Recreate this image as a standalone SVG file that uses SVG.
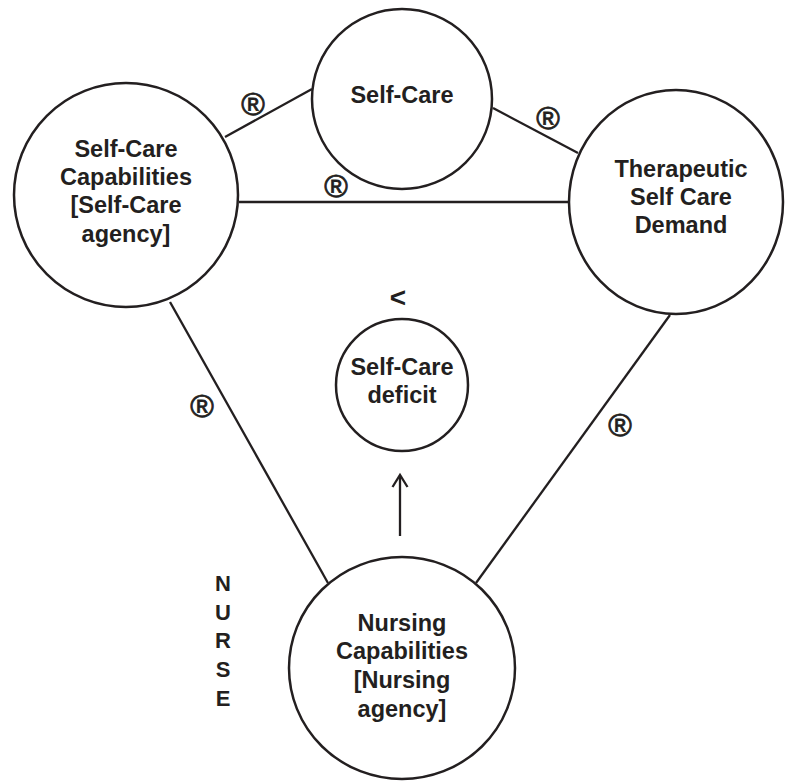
<svg xmlns="http://www.w3.org/2000/svg" width="787" height="781" viewBox="0 0 787 781">
<style>
.node{fill:#fff;stroke:#231f20;stroke-width:2.5}
.conn{stroke:#231f20;stroke-width:2.3;fill:none}
.lbl{font-family:"Liberation Sans",Arial,sans-serif;font-weight:bold;font-size:23.5px;fill:#231f20;text-anchor:middle}
.reg{font-family:"Liberation Sans",Arial,sans-serif;font-size:32px;fill:#231f20;text-anchor:middle;stroke:#231f20;stroke-width:0.8}
</style>
<rect width="787" height="781" fill="#fff"/>
<g id="connectors">
<line class="conn" x1="239" y1="202" x2="568" y2="202"/>
<line class="conn" x1="225" y1="137" x2="312" y2="89"/>
<line class="conn" x1="493" y1="108" x2="578" y2="153"/>
<line class="conn" x1="170" y1="302" x2="328" y2="583"/>
<line class="conn" x1="670" y1="315" x2="476" y2="583"/>
<line class="conn" x1="400" y1="536" x2="400" y2="476"/>
<path class="conn" d="M392.5,487 L400,475 L407.5,487"/>
<text class="reg" x="253" y="115">®</text>
<text class="reg" x="336" y="197">®</text>
<text class="reg" x="548" y="129">®</text>
<text class="reg" x="202" y="417">®</text>
<text class="reg" x="620" y="436">®</text>
</g>
<g id="self-care">
<circle class="node" cx="402" cy="99" r="90"/>
<text class="lbl" x="402" y="103">Self-Care</text>
</g>
<g id="self-care-capabilities">
<circle class="node" cx="126" cy="195" r="112"/>
<text class="lbl" x="126" y="157">Self-Care</text>
<text class="lbl" x="126" y="185">Capabilities</text>
<text class="lbl" x="126" y="213">[Self-Care</text>
<text class="lbl" x="126" y="242">agency]</text>
</g>
<g id="therapeutic-demand">
<ellipse class="node" cx="676" cy="202" rx="107" ry="112"/>
<text class="lbl" x="681" y="177">Therapeutic</text>
<text class="lbl" x="681" y="205">Self Care</text>
<text class="lbl" x="681" y="233">Demand</text>
</g>
<g id="self-care-deficit">
<circle class="node" cx="402" cy="385" r="66"/>
<text class="lbl" x="402" y="375">Self-Care</text>
<text class="lbl" x="402" y="403">deficit</text>
<text class="lbl" x="398" y="307" style="font-size:28px">&lt;</text>
</g>
<g id="nursing-capabilities">
<ellipse class="node" cx="402" cy="668" rx="113" ry="111"/>
<text class="lbl" x="402" y="631">Nursing</text>
<text class="lbl" x="402" y="659">Capabilities</text>
<text class="lbl" x="402" y="688">[Nursing</text>
<text class="lbl" x="402" y="717">agency]</text>
</g>
<g id="nurse-label">
<text class="lbl" x="223" y="591" style="font-size:22px">N</text>
<text class="lbl" x="223" y="620" style="font-size:22px">U</text>
<text class="lbl" x="223" y="648" style="font-size:22px">R</text>
<text class="lbl" x="223" y="677" style="font-size:22px">S</text>
<text class="lbl" x="223" y="706" style="font-size:22px">E</text>
</g>
</svg>
